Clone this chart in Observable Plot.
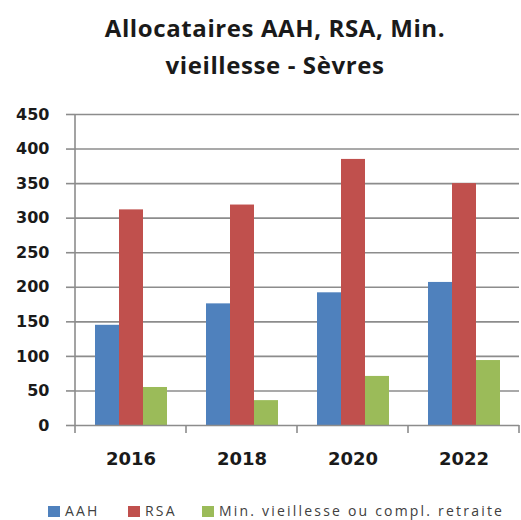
<!DOCTYPE html>
<html>
<head>
<meta charset="utf-8">
<script src="https://cdn.jsdelivr.net/npm/d3@7"></script>
<script src="https://cdn.jsdelivr.net/npm/@observablehq/plot@0.6"></script>
<style>
  html, body { margin: 0; padding: 0; background: #fff; }
  #wrap { position: relative; width: 521px; height: 520px; overflow: hidden; background: #fff; }
  #title { position: absolute; left: 30px; width: 490px; top: 9px; text-align: center;
           font-family: "Open Sans", sans-serif; font-weight: 700; font-size: 24px; letter-spacing: 0.6px;
           line-height: 37px; color: #1a1a1a; }
  #chart { position: absolute; left: 0; top: 0; }
  .leg { position: absolute; top: 504px; height: 14px; display: flex; align-items: center;
         font-family: "Open Sans", sans-serif; font-size: 14px; line-height: 14px; letter-spacing: 2.2px;
         color: #404040; white-space: nowrap; }
  .sw { width: 12px; height: 11px; margin-right: 5px; }
</style>
</head>
<body>
<div id="wrap">
  <div id="title">Allocataires AAH, RSA, Min.<br>vieillesse - Sèvres</div>
  <div id="chart"></div>
</div>
<script>
const years = ["2016", "2018", "2020", "2022"];
const series = ["AAH", "RSA", "Min. vieillesse ou compl. retraite"];
const aah = [145, 176, 192, 207];
const rsa = [312, 319, 385, 350];
const minVieillesse = [55, 36, 71, 94];
const colors = ["#4f81bd", "#c0504d", "#9bbb59"];
const yTicks = [0, 50, 100, 150, 200, 250, 300, 350, 400, 450];
const legendX = [48, 128, 202];

const valuesBySeries = [aah, rsa, minVieillesse];
const data = years.flatMap((yr, i) =>
  series.map((s, j) => ({year: yr, series: s, value: valuesBySeries[j][i]}))
);

const gridColor = "#8c8c8c";

const chart = Plot.plot({
  width: 521,
  height: 520,
  marginTop: 114,
  marginBottom: 95,
  marginLeft: 73,
  marginRight: 1,
  style: {fontFamily: "DejaVu Sans", background: "transparent", color: "#1a1a1a"},
  fx: {domain: years, padding: 0, label: null},
  x: {domain: series, paddingInner: 0, paddingOuter: 0.76, axis: null},
  y: {domain: [0, 450], label: null},
  color: {domain: series, range: colors},
  marks: [
    Plot.ruleY(yTicks.filter(v => v > 0), {stroke: gridColor, strokeWidth: 1.6}),
    Plot.barY(data, {fx: "year", x: "series", y: "value", fill: "series", inset: 0}),
    Plot.ruleY([0], {stroke: gridColor, strokeWidth: 1.6}),
    Plot.axisY({ticks: yTicks, tickSize: 9, tickPadding: 17, stroke: gridColor, strokeWidth: 1.6,
                fontSize: 16, fontWeight: "bold", label: null}),
    Plot.axisFx({anchor: "bottom", tickSize: 0, tickPadding: 27, fontSize: 18, fontWeight: "bold", label: null})
  ]
});

// axis line and category boundary ticks, positioned through the chart's own scales
const fx = chart.scale("fx");
const y = chart.scale("y");
const svg = d3.select(chart);
const x0 = fx.apply(years[0]);
const y0 = y.apply(0);
const yTop = y.apply(yTicks[yTicks.length - 1]);
const boundaries = years.map(yr => fx.apply(yr)).concat([fx.apply(years[years.length - 1]) + fx.bandwidth]);
const g = svg.append("g").attr("stroke", gridColor).attr("stroke-width", 1.6);
g.append("line").attr("x1", x0).attr("x2", x0).attr("y1", yTop).attr("y2", y0);
boundaries.forEach(bx => {
  g.append("line").attr("x1", bx).attr("x2", bx).attr("y1", y0).attr("y2", y0 + 8);
});

document.getElementById("chart").appendChild(chart);

// legend
const wrap = document.getElementById("wrap");
series.forEach((s, i) => {
  const item = document.createElement("div");
  item.className = "leg";
  item.style.left = legendX[i] + "px";
  const sw = document.createElement("span");
  sw.className = "sw";
  sw.style.background = colors[i];
  const t = document.createElement("span");
  t.textContent = s;
  item.appendChild(sw);
  item.appendChild(t);
  wrap.appendChild(item);
});
</script>
</body>
</html>
